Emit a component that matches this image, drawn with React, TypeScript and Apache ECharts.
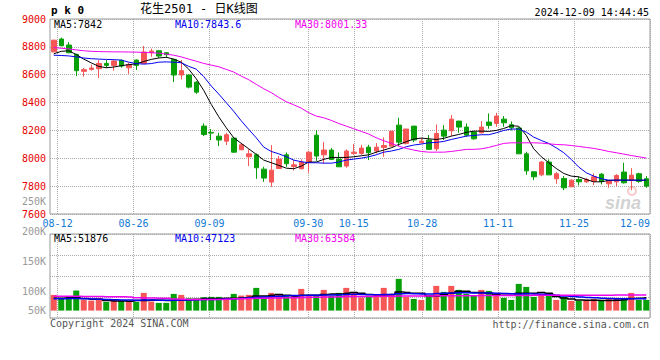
import React, { useEffect, useRef } from 'react';
import * as echarts from 'echarts';

// ---------- data ----------
const dates = [
  '08-09', '08-12', '08-13', '08-14', '08-15', '08-16', '08-19', '08-20', '08-21', '08-22',
  '08-23', '08-26', '08-27', '08-28', '08-29', '08-30', '09-02', '09-03', '09-04', '09-05',
  '09-06', '09-09', '09-10', '09-11', '09-12', '09-13', '09-18', '09-19', '09-20', '09-23',
  '09-24', '09-25', '09-26', '09-27', '09-30', '10-08', '10-09', '10-10', '10-11', '10-14',
  '10-15', '10-16', '10-17', '10-18', '10-21', '10-22', '10-23', '10-24', '10-25', '10-28',
  '10-29', '10-30', '10-31', '11-01', '11-04', '11-05', '11-06', '11-07', '11-08', '11-11',
  '11-12', '11-13', '11-14', '11-15', '11-18', '11-19', '11-20', '11-21', '11-22', '11-25',
  '11-26', '11-27', '11-28', '11-29', '12-02', '12-03', '12-04', '12-05', '12-06', '12-09',
];
const labelDates = ['08-12', '08-26', '09-09', '09-30', '10-15', '10-28', '11-11', '11-25', '12-09'];

const opens = [
  8764, 8856, 8813, 8746, 8624, 8638, 8643, 8681, 8667, 8703,
  8650, 8705, 8681, 8758, 8772, 8758, 8710, 8598, 8598, 8547,
  8231, 8186, 8159, 8123, 8145, 8061, 8011, 8025, 7922, 7829,
  7927, 8025, 7941, 7925, 7973, 8166, 8025, 8059, 7994, 7944,
  8035, 8035, 8080, 8052, 8078, 8087, 8238, 8107, 8231, 8111,
  8131, 8068, 8202, 8198, 8267, 8224, 8188, 8183, 8260, 8250,
  8281, 8241, 8217, 8032, 7903, 7881, 7973, 7853, 7855, 7795,
  7848, 7831, 7836, 7886, 7817, 7831, 7901, 7841, 7889, 7853,
];
const closes = [
  8848, 8808, 8758, 8629, 8636, 8648, 8681, 8667, 8698, 8662,
  8674, 8667, 8763, 8770, 8734, 8744, 8598, 8629, 8511, 8475,
  8171, 8181, 8131, 8169, 8044, 8097, 8032, 7932, 7858, 7915,
  7994, 7961, 7953, 7973, 8044, 8016, 8059, 7992, 7939, 8052,
  8044, 8073, 8040, 8080, 8092, 8195, 8116, 8210, 8131, 8123,
  8064, 8178, 8159, 8281, 8224, 8166, 8140, 8224, 8236, 8303,
  8255, 8219, 8032, 7910, 7867, 7973, 7881, 7889, 7788, 7843,
  7831, 7848, 7867, 7834, 7841, 7877, 7824, 7879, 7834, 7800,
];
const lows = [
  8760, 8803, 8753, 8590, 8586, 8629, 8576, 8650, 8629, 8650,
  8607, 8634, 8677, 8729, 8720, 8722, 8547, 8566, 8502, 8463,
  8159, 8131, 8087, 8095, 8040, 8059, 7944, 7853, 7831, 7795,
  7925, 7939, 7913, 7920, 7896, 7980, 7963, 7987, 7939, 7932,
  8025, 8025, 7987, 8035, 8011, 8087, 8087, 8099, 8116, 8107,
  8059, 8052, 8131, 8159, 8183, 8155, 8133, 8178, 8212, 8226,
  8226, 8200, 8032, 7881, 7843, 7872, 7881, 7817, 7771, 7795,
  7805, 7824, 7807, 7812, 7788, 7800, 7819, 7771, 7824, 7788,
];
const highs = [
  8850, 8866, 8835, 8751, 8648, 8672, 8705, 8705, 8705, 8710,
  8686, 8710, 8806, 8787, 8777, 8763, 8715, 8705, 8600, 8552,
  8250, 8210, 8183, 8183, 8147, 8111, 8064, 8035, 7939, 8095,
  8016, 8042, 7987, 7992, 8054, 8202, 8116, 8073, 8042, 8064,
  8102, 8097, 8097, 8109, 8150, 8195, 8291, 8210, 8231, 8147,
  8167, 8243, 8238, 8310, 8267, 8250, 8195, 8267, 8322, 8327,
  8303, 8265, 8224, 8047, 7903, 7980, 7992, 7901, 7872, 7848,
  7867, 7860, 7891, 7894, 7843, 7886, 7968, 7929, 7896, 7872,
];

const ma5 = [
  8750, 8768, 8772, 8745, 8712, 8685, 8660, 8650, 8655, 8665,
  8672, 8678, 8695, 8710, 8720, 8725, 8712, 8690, 8640, 8571,
  8487, 8387, 8298, 8219, 8147, 8107, 8068, 8028, 7987, 7968,
  7949, 7929, 7925, 7944, 7973, 7973, 7992, 8006, 8006, 8006,
  8011, 8018, 8025, 8044, 8059, 8075, 8099, 8119, 8138, 8145,
  8140, 8135, 8143, 8159, 8171, 8186, 8195, 8195, 8193, 8200,
  8214, 8234, 8230, 8165, 8068, 8011, 7968, 7927, 7891, 7872,
  7867, 7848, 7831, 7831, 7841, 7843, 7843, 7843, 7842, 7842,
];
const ma10 = [
  8740, 8738, 8735, 8728, 8720, 8715, 8712, 8710, 8708, 8705,
  8690, 8680, 8676, 8680, 8690, 8692, 8690, 8686, 8660, 8640,
  8586, 8519, 8461, 8399, 8337, 8269, 8207, 8147, 8080, 8049,
  8032, 8011, 7987, 7975, 7968, 7968, 7965, 7965, 7973, 7987,
  7994, 8001, 8011, 8025, 8044, 8052, 8064, 8083, 8095, 8102,
  8111, 8114, 8121, 8135, 8147, 8159, 8164, 8169, 8169, 8183,
  8200, 8210, 8210, 8188, 8152, 8128, 8107, 8075, 8040, 7992,
  7937, 7896, 7872, 7853, 7843, 7843, 7843, 7843, 7843, 7843.6,
];
const ma30 = [
  8795, 8790, 8785, 8778, 8772, 8768, 8766, 8765, 8764, 8764,
  8763, 8762, 8760, 8758, 8755, 8748, 8740, 8728, 8712, 8697,
  8681, 8669, 8657, 8638, 8619, 8590, 8564, 8531, 8499, 8471,
  8437, 8406, 8384, 8360, 8327, 8303, 8291, 8272, 8250, 8231,
  8212, 8193, 8174, 8147, 8126, 8107, 8087, 8071, 8059, 8049,
  8044, 8044, 8044, 8049, 8056, 8064, 8064, 8068, 8078, 8092,
  8107, 8111, 8111, 8111, 8111, 8109, 8104, 8099, 8097, 8092,
  8085, 8078, 8071, 8061, 8049, 8040, 8030, 8020, 8011, 8001.33,
];

const volumes = [
  63500, 47300, 56800, 81100, 43200, 40500, 50000, 35100, 43200, 39200,
  36500, 35100, 71600, 36500, 31100, 31100, 67600, 63500, 50000, 43200,
  54100, 55400, 55400, 43200, 67600, 60800, 63500, 91900, 51400, 71600,
  64900, 62200, 62200, 87800, 59500, 62200, 83800, 59500, 71600, 91900,
  75700, 52700, 56800, 63500, 91900, 63500, 128400, 55400, 47300, 43200,
  59500, 100000, 75700, 100000, 83800, 67600, 59500, 83800, 79700, 63500,
  51400, 43200, 108100, 95900, 55400, 67600, 59500, 43200, 55400, 39200,
  39200, 43200, 47300, 43200, 47300, 51400, 47300, 71600, 43200, 43200,
];
const volMa5 = [
  50000, 50000, 52700, 52700, 48600, 46000, 46000, 40500, 39000, 39000,
  38000, 40500, 40500, 42000, 42000, 40500, 42000, 43000, 43000, 46000,
  48600, 48600, 48600, 50000, 50000, 51400, 54000, 59500, 59500, 62000,
  65000, 62000, 59500, 62000, 62000, 62000, 65000, 67600, 67600, 70000,
  73000, 70000, 65000, 63500, 63500, 65000, 75700, 73000, 70000, 70000,
  59500, 59500, 65000, 70000, 78000, 78000, 73000, 73000, 70000, 65000,
  62000, 62000, 70000, 70000, 70000, 73000, 70000, 56800, 51400, 47300,
  43200, 42000, 42000, 40500, 40500, 42000, 44000, 49000, 50000, 51876,
];
const volMa10 = [
  48000, 48000, 49000, 49000, 48000, 47000, 46000, 45000, 44000, 43000,
  43000, 42000, 43000, 43000, 42000, 42000, 42000, 43000, 43000, 44000,
  45000, 45000, 46000, 47000, 48000, 50000, 52000, 54000, 55000, 57000,
  58000, 60000, 61000, 61000, 62000, 62000, 63000, 63000, 64000, 65000,
  66000, 65000, 64000, 64000, 65000, 65000, 68000, 69000, 68000, 67000,
  67000, 69000, 70000, 71000, 72000, 72000, 71000, 71000, 71000, 70000,
  69000, 68000, 67000, 68000, 67000, 66000, 64000, 62000, 59000, 57000,
  55000, 53000, 52000, 50000, 49000, 48000, 48000, 48000, 47500, 47123,
];
const volMa30 = [
  58000, 58000, 58000, 58000, 57000, 57000, 57000, 56000, 56000, 56000,
  55000, 52000, 51000, 51000, 50000, 50000, 47000, 46000, 45000, 45000,
  45000, 45000, 45000, 46000, 48000, 48000, 49000, 50000, 50000, 51000,
  51000, 52000, 52000, 53000, 54000, 54000, 55000, 55000, 56000, 57000,
  57000, 57000, 57000, 58000, 58000, 58000, 59000, 59000, 59000, 59000,
  59000, 60000, 60000, 60000, 60000, 60000, 60000, 61000, 61000, 61000,
  61000, 61000, 61000, 61000, 62000, 62000, 62000, 62000, 62000, 62000,
  62000, 62000, 62000, 62500, 62500, 63000, 63000, 63300, 63500, 63584,
];

const priceMin = 7600;
const priceMax = 9000;
const priceStep = 200;
const volTickLabels = ['250K', '200K', '150K', '100K', '50K'];

const symbolName = 'p k 0';
const titleText = '花生2501 - 日K线图';
const timeText = '2024-12-09 14:44:45';
const priceLegend = ['MA5:7842', 'MA10:7843.6', 'MA30:8001.33'];
const volLegend = ['MA5:51876', 'MA10:47123', 'MA30:63584'];
const copyrightText = 'Copyright 2024 SINA.COM';
const urlText = 'http://finance.sina.com.cn';

// ---------- styles ----------
const RED = '#f55656';
const GREEN = '#08a008';
const MONO = '"DejaVu Sans Mono", monospace';
const GRID_LINE = '#aaaaaa';
const labelSet = new Set(labelDates);
const lastIdx = dates.length - 1;

function buildOption(): echarts.EChartsOption {
  const candleData = dates.map((_, i) => [opens[i], closes[i], lows[i], highs[i]]);
  const volData = volumes.map((v, i) => ({
    value: v,
    itemStyle: { color: closes[i] >= opens[i] ? RED : GREEN },
  }));
  const legendColors = ['#000000', '#0000ee', '#ee00ee'];
  const legendX = [54, 175, 295];
  const volLabelY = [201, 231, 261, 291, 310];

  const texts: any[] = [];
  texts.push({
    type: 'text', x: 51, y: 10,
    style: { text: symbolName, fill: '#000', fontFamily: MONO, fontSize: 11, fontWeight: 'bold', verticalAlign: 'middle' },
  });
  texts.push({
    type: 'text', x: 140, y: 9,
    style: { text: titleText, fill: '#000', fontFamily: '"DejaVu Sans Mono", "Noto Sans CJK SC", sans-serif', fontSize: 12, verticalAlign: 'middle' },
  });
  texts.push({
    type: 'text', x: 649, y: 12,
    style: { text: timeText, fill: '#000', fontFamily: MONO, fontSize: 10, align: 'right', verticalAlign: 'middle' },
  });
  priceLegend.forEach((t, i) => texts.push({
    type: 'text', x: legendX[i], y: 24, z: 10,
    style: { text: t, fill: legendColors[i], fontFamily: MONO, fontSize: 10, verticalAlign: 'middle' },
  }));
  volLegend.forEach((t, i) => texts.push({
    type: 'text', x: legendX[i], y: 238, z: 10,
    style: { text: t, fill: legendColors[i], fontFamily: MONO, fontSize: 10, verticalAlign: 'middle' },
  }));
  volTickLabels.forEach((t, i) => texts.push({
    type: 'text', x: 46, y: volLabelY[i],
    style: { text: t, fill: '#999999', fontFamily: MONO, fontSize: 10, align: 'right', verticalAlign: 'middle' },
  }));
  texts.push({
    type: 'text', x: 50, y: 323,
    style: { text: copyrightText, fill: '#555', fontFamily: MONO, fontSize: 10, verticalAlign: 'middle' },
  });
  texts.push({
    type: 'text', x: 649, y: 324,
    style: { text: urlText, fill: '#555', fontFamily: MONO, fontSize: 10, align: 'right', verticalAlign: 'middle' },
  });
  texts.push({
    type: 'ring', shape: { cx: 632, cy: 191, r: 5, r0: 3 }, z: 0,
    style: { fill: 'rgba(240,170,170,0.6)' },
  });
  texts.push({
    type: 'text', x: 623, y: 203, z: 0,
    style: { text: 'sina', fill: 'rgba(190,190,190,0.7)', fontFamily: 'Liberation Sans, sans-serif', fontSize: 18, fontWeight: 'bold', fontStyle: 'italic', align: 'center', verticalAlign: 'middle' },
  });

  const dateLabel = {
    interval: (_i: number, v: string) => labelSet.has(v),
    color: '#1479d4',
    fontFamily: MONO,
    fontSize: 10,
    margin: 4,
    formatter: (v: string, i: number) => (i === lastIdx ? `{r|${v}}` : v),
    rich: { r: { padding: [0, 30, 0, 0], color: '#1479d4', fontFamily: MONO, fontSize: 10 } },
  };
  const dateSplit = {
    show: true,
    interval: (_i: number, v: string) => labelSet.has(v),
    lineStyle: { color: GRID_LINE, type: [1, 1] as any, width: 1 },
  };

  return {
    animation: false,
    backgroundColor: '#ffffff',
    grid: [
      { left: 50, top: 19, width: 600, height: 195, show: true, borderColor: '#999', borderWidth: 1, backgroundColor: 'transparent' },
      { left: 50, top: 234, width: 600, height: 84, show: true, borderColor: '#999', borderWidth: 1, backgroundColor: 'transparent' },
    ],
    xAxis: [
      { type: 'category', gridIndex: 0, data: dates, boundaryGap: true, show: false },
      {
        type: 'category', gridIndex: 0, data: dates, boundaryGap: false, position: 'bottom',
        axisLine: { show: false }, axisTick: { show: false },
        axisLabel: dateLabel as any, splitLine: dateSplit as any,
      },
      { type: 'category', gridIndex: 1, data: dates, boundaryGap: true, show: false },
      {
        type: 'category', gridIndex: 1, data: dates, boundaryGap: false,
        axisLine: { show: false }, axisTick: { show: false }, axisLabel: { show: false },
        splitLine: dateSplit as any,
      },
    ],
    yAxis: [
      {
        type: 'value', gridIndex: 0, min: priceMin, max: priceMax, interval: priceStep,
        axisLine: { show: false }, axisTick: { show: false },
        axisLabel: { color: '#e40000', fontFamily: MONO, fontSize: 10, margin: 4, formatter: (v: number) => String(v) },
        splitLine: { show: true, lineStyle: { color: GRID_LINE, type: [1, 1] as any } },
      },
      { type: 'value', gridIndex: 1, min: -30000, max: 310000, show: false, splitLine: { show: false } },
      {
        type: 'value', gridIndex: 1, min: 0, max: 200000, interval: 50000,
        axisLine: { show: false }, axisTick: { show: false }, axisLabel: { show: false },
        splitLine: { show: true, lineStyle: { color: GRID_LINE, type: [1, 1] as any } },
      },
    ],
    series: [
      {
        type: 'candlestick', xAxisIndex: 0, yAxisIndex: 0, data: candleData, barWidth: 5,
        itemStyle: { color: RED, color0: GREEN, borderColor: RED, borderColor0: GREEN, borderWidth: 1 },
      },
      { type: 'line', xAxisIndex: 0, yAxisIndex: 0, data: ma5, showSymbol: false, symbol: 'none', lineStyle: { color: '#000', width: 1 }, z: 3 },
      { type: 'line', xAxisIndex: 0, yAxisIndex: 0, data: ma10, showSymbol: false, symbol: 'none', lineStyle: { color: '#0000ee', width: 1 }, z: 3 },
      { type: 'line', xAxisIndex: 0, yAxisIndex: 0, data: ma30, showSymbol: false, symbol: 'none', lineStyle: { color: '#ee00ee', width: 1 }, z: 3 },
      { type: 'bar', xAxisIndex: 2, yAxisIndex: 1, data: volData as any, barWidth: 6 },
      { type: 'line', xAxisIndex: 2, yAxisIndex: 1, data: volMa5, step: 'middle', showSymbol: false, symbol: 'none', lineStyle: { color: '#000', width: 1.5 }, z: 3 },
      { type: 'line', xAxisIndex: 2, yAxisIndex: 1, data: volMa10, step: 'middle', showSymbol: false, symbol: 'none', lineStyle: { color: '#0000ee', width: 1.5 }, z: 3 },
      { type: 'line', xAxisIndex: 2, yAxisIndex: 1, data: volMa30, step: 'middle', showSymbol: false, symbol: 'none', lineStyle: { color: '#ee00ee', width: 1.5 }, z: 3 },
    ],
    graphic: texts,
  } as echarts.EChartsOption;
}

export default function App() {
  const ref = useRef<HTMLDivElement>(null);
  useEffect(() => {
    document.body.style.margin = '0';
    const chart = echarts.init(ref.current as HTMLDivElement, null, { renderer: 'svg' });
    chart.setOption(buildOption());
    return () => chart.dispose();
  }, []);
  return <div ref={ref} style={{ width: 660, height: 360, position: 'absolute', left: 0, top: 0 }} />;
}
